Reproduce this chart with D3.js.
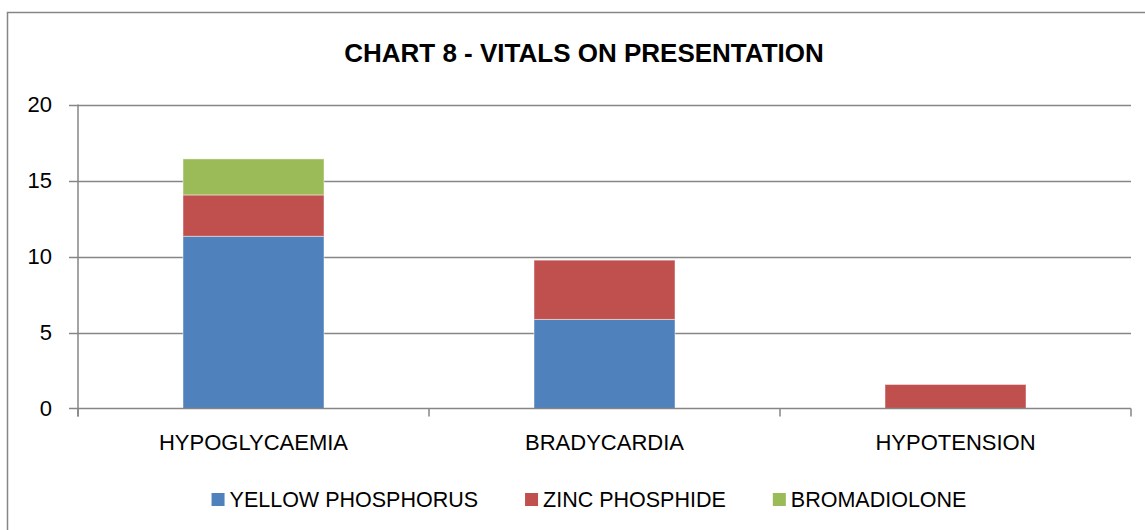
<!DOCTYPE html>
<html>
<head>
<meta charset="utf-8">
<script src="https://cdn.jsdelivr.net/npm/d3@7.9.0/dist/d3.min.js"></script>
<style>
  body { margin: 0; background: #fff; }
  svg { display: block; font-family: "Liberation Sans", Arial, sans-serif; }
</style>
</head>
<body>
<svg id="chart" width="1145" height="530"></svg>
<script>
// chart data
const categories = ['HYPOGLYCAEMIA', 'BRADYCARDIA', 'HYPOTENSION'];
const seriesNames = ['YELLOW PHOSPHORUS', 'ZINC PHOSPHIDE', 'BROMADIOLONE'];
const yellowPhosphorus = [11.33, 5.86, 0];
const zincPhosphide = [2.72, 3.9, 1.58];
const bromadiolone = [2.37, 0, 0];
const seriesColors = ['#4F81BD', '#C0504D', '#9BBB59'];
const yTicks = [0, 5, 10, 15, 20];

const svg = d3.select('#chart');

// outer chart frame (runs past the picture edge on right and bottom)
svg.append('rect')
  .attr('x', 7.5).attr('y', 12.5)
  .attr('width', 1300).attr('height', 700)
  .attr('fill', 'none').attr('stroke', '#868686').attr('stroke-width', 1.5);

const margin = { left: 78, right: 1131, top: 104.5, bottom: 408.5 };

const x = d3.scaleBand()
  .domain(categories)
  .range([margin.left, margin.right])
  .paddingInner(0.6)
  .paddingOuter(0.3);
// outer band edges (where category ticks go)
const step = (margin.right - margin.left) / categories.length;

const y = d3.scaleLinear().domain([0, 20]).range([margin.bottom, margin.top]);

// gridlines
svg.append('g')
  .selectAll('line')
  .data(yTicks.filter(d => d > 0))
  .join('line')
  .attr('x1', margin.left - 9).attr('x2', margin.right)
  .attr('y1', d => Math.round(y(d)) + 0.5).attr('y2', d => Math.round(y(d)) + 0.5)
  .attr('stroke', '#868686').attr('stroke-width', 1.5);

// stacked bars
const rows = categories.map((c, i) => ({
  cat: c,
  [seriesNames[0]]: yellowPhosphorus[i],
  [seriesNames[1]]: zincPhosphide[i],
  [seriesNames[2]]: bromadiolone[i]
}));
const stacked = d3.stack().keys(seriesNames)(rows);

const bw = 141;
svg.append('g')
  .selectAll('g')
  .data(stacked)
  .join('g')
  .attr('fill', (d, i) => seriesColors[i])
  .selectAll('rect')
  .data(d => d.filter(p => p[1] - p[0] > 0))
  .join('rect')
  .attr('x', d => x(d.data.cat) + x.bandwidth() / 2 - bw / 2)
  .attr('width', bw)
  .attr('y', d => y(d[1]))
  .attr('height', d => y(d[0]) - y(d[1]))
  .attr('stroke', 'rgba(255,255,255,0.45)')
  .attr('stroke-width', 1);

// y axis
const yAxis = svg.append('g');
yAxis.append('line')
  .attr('x1', margin.left).attr('x2', margin.left)
  .attr('y1', margin.top).attr('y2', margin.bottom + 8)
  .attr('stroke', '#868686').attr('stroke-width', 1.5);
yAxis.selectAll('text')
  .data(yTicks)
  .join('text')
  .attr('x', 52)
  .attr('y', d => y(d))
  .attr('dy', '0.36em')
  .attr('text-anchor', 'end')
  .attr('font-size', 22)
  .attr('fill', '#000')
  .text(d => d);

// x axis
const xAxis = svg.append('g');
xAxis.append('line')
  .attr('x1', margin.left - 9).attr('x2', margin.right)
  .attr('y1', margin.bottom).attr('y2', margin.bottom)
  .attr('stroke', '#868686').attr('stroke-width', 1.5);
xAxis.selectAll('line.tick')
  .data(d3.range(categories.length + 1))
  .join('line')
  .attr('class', 'tick')
  .attr('x1', i => margin.left + i * step).attr('x2', i => margin.left + i * step)
  .attr('y1', margin.bottom).attr('y2', margin.bottom + 8)
  .attr('stroke', '#868686').attr('stroke-width', 1.5);
xAxis.selectAll('text')
  .data(categories)
  .join('text')
  .attr('x', d => x(d) + x.bandwidth() / 2)
  .attr('y', 450)
  .attr('text-anchor', 'middle')
  .attr('font-size', 22)
  .attr('fill', '#000')
  .text(d => d);

// title
svg.append('text')
  .attr('x', 584).attr('y', 62)
  .attr('text-anchor', 'middle')
  .attr('font-size', 26)
  .attr('font-weight', 'bold')
  .attr('fill', '#000')
  .text('CHART 8 - VITALS ON PRESENTATION');

// legend
const legend = svg.append('g');
const items = legend.selectAll('g')
  .data(seriesNames)
  .join('g');
items.append('rect')
  .attr('width', 13).attr('height', 13)
  .attr('y', 493)
  .attr('fill', (d, i) => seriesColors[i]);
items.append('text')
  .attr('x', 18).attr('y', 507)
  .attr('font-size', 21.5)
  .attr('fill', '#000')
  .text(d => d);
let cursor = 0;
const offsets = [];
items.each(function () {
  offsets.push(cursor);
  const w = d3.select(this).select('text').node().getComputedTextLength();
  cursor += 18 + w + 47;
});
const total = cursor - 47;
const startX = 589 - total / 2;
items.attr('transform', (d, i) => `translate(${startX + offsets[i]},0)`);
</script>
</body>
</html>
